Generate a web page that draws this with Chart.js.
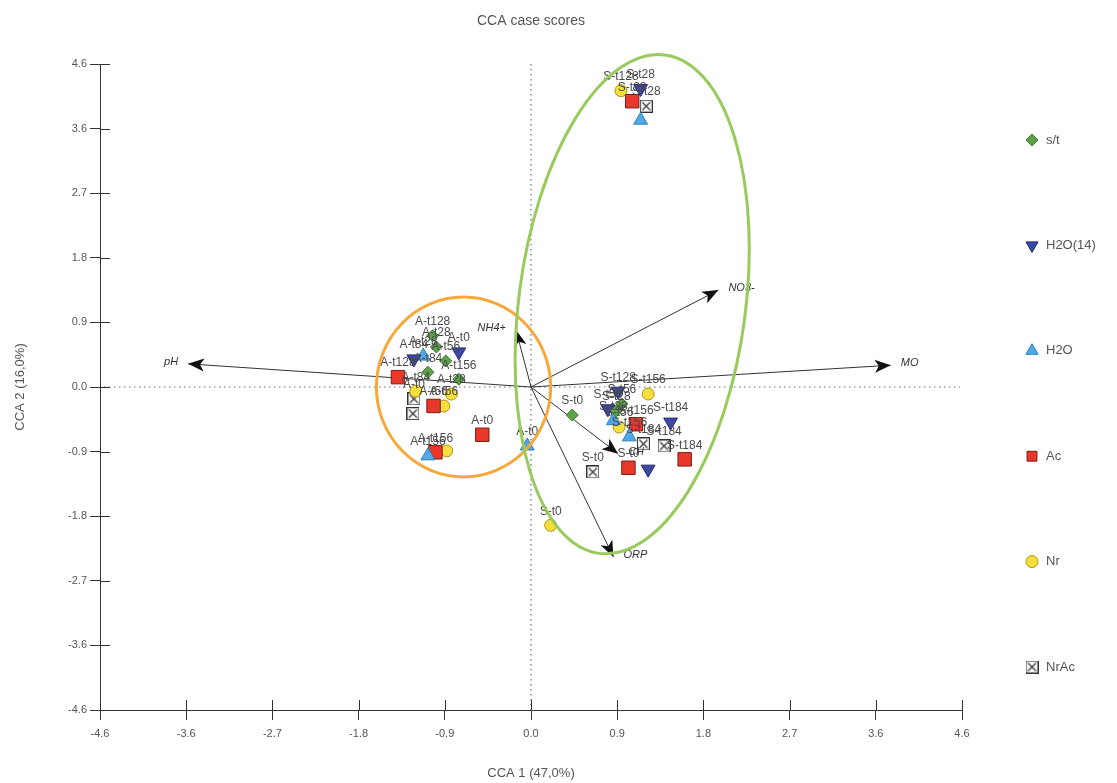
<!DOCTYPE html>
<html>
<head>
<meta charset="utf-8">
<title>CCA case scores</title>
<script src="https://cdn.jsdelivr.net/npm/chart.js@4/dist/chart.umd.min.js"></script>
<style>
    html, body { margin: 0; padding: 0; background: #fff; }
    #chart-cca { display: block; }
</style>
</head>
<body>
<canvas id="chart-cca" width="1117" height="783"></canvas>
<script>
"use strict";

// ======================================================================
// Data
//
const tickValues = [-4.6, -3.68, -2.76, -1.84, -0.92, 0, 0.92, 1.84, 2.76, 3.68, 4.6];
const tickLabels = ['-4.6', '-3.6', '-2.7', '-1.8', '-0.9', '0.0', '0.9', '1.8', '2.7', '3.6', '4.6'];

const seriesNames = ['s/t', 'H2O(14)', 'H2O', 'Ac', 'Nr', 'NrAc'];

const stX = [0.44, 0.91, 0.97, -1.05, -1.01, -1.10, -0.77, -0.91];
const stY = [-0.40, -0.34, -0.24, 0.73, 0.57, 0.21, 0.11, 0.37];
const stLabels = ['S-t0', 'S-t28', 'S-t56', 'A-t128', 'A-t28', 'A-t84', 'A-t156', 'A-t56'];

const h2o14X = [-0.77, -1.25, 0.93, 0.82, 1.49, 1.25, 1.17];
const h2o14Y = [0.50, 0.40, -0.06, -0.31, -0.50, -1.17, 4.25];
const h2o14Labels = ['A-t0', 'A-t84', 'S-t128', 'S-t56', 'S-t184', '', 'S-t28'];

const h2oX = [1.17, -1.10, -0.04, -1.15, 0.88, 1.05];
const h2oY = [3.80, -0.98, -0.84, 0.44, -0.48, -0.71];
const h2oLabels = ['', 'A-t156', 'A-t0', 'A-t28', 'S-t28', 'S-t156'];

const acX = [1.08, -1.42, -1.04, -1.02, -0.52, 1.12, 1.04, 1.64];
const acY = [4.07, 0.14, -0.27, -0.93, -0.68, -0.53, -1.15, -1.03];
const acLabels = ['S-t28', 'A-t128', 'A-t56', 'A-t156', 'A-t0', 'S-t156', 'S-t0', 'S-t184'];

const nrX = [0.96, -1.23, -0.85, -0.93, -0.90, 1.25, 0.94, 0.21];
const nrY = [4.22, -0.06, -0.10, -0.27, -0.91, -0.10, -0.57, -1.97];
const nrLabels = ['S-t128', 'A-t84', 'A-t28', 'A-t56', '', 'S-t156', 'S-t56', 'S-t0'];

const nracX = [1.23, -1.25, -1.26, 1.20, 1.42, 0.66];
const nracY = [4.00, -0.17, -0.38, -0.81, -0.84, -1.21];
const nracLabels = ['S-t28', 'A-t0', '', 'S-t184', 'S-t184', 'S-t0'];

// environmental vectors (biplot arrows)
const vectorNames = ['pH', 'MO', 'NO3-', 'NH4+', 'CH', 'ORP'];
const vectorX = [-3.66, 3.84, 2.00, -0.16, 0.93, 0.88];
const vectorY = [0.33, 0.31, 1.38, 0.81, -0.95, -2.42];

// group ellipses, in axis units (A soils, S soils)
const ellipseCX = [-0.72, 1.08];
const ellipseCY = [0.00, 1.18];
const ellipseRX = [0.93, 1.21];
const ellipseRY = [1.28, 3.58];
const ellipseTilt = [0, 7.5];

// ======================================================================
// Helpers
//
function toPoints(xs, ys) {
    return xs.map((x, i) => ({ x: x, y: ys[i] }));
}

function boxCross(size) {
    const c = document.createElement('canvas');
    c.width = size;
    c.height = size;
    const g = c.getContext('2d');
    g.fillStyle = '#fff';
    g.fillRect(0.5, 0.5, size - 1, size - 1);
    g.strokeStyle = '#333';
    g.lineWidth = 1.2;
    g.strokeRect(0.5, 0.5, size - 1, size - 1);
    g.beginPath();
    g.moveTo(2.5, 2.5); g.lineTo(size - 2.5, size - 2.5);
    g.moveTo(size - 2.5, 2.5); g.lineTo(2.5, size - 2.5);
    g.stroke();
    return c;
}

const FONT = "'Liberation Sans', Arial, sans-serif";

// ======================================================================
// Datasets
//
const seriesPoints = [
    toPoints(stX, stY), toPoints(h2o14X, h2o14Y), toPoints(h2oX, h2oY),
    toPoints(acX, acY), toPoints(nrX, nrY), toPoints(nracX, nracY)
];
const seriesLabels = [stLabels, h2o14Labels, h2oLabels, acLabels, nrLabels, nracLabels];
const seriesStyle = [
    { pointStyle: 'rectRot', radius: 6, rotation: 0, bg: '#5da24a', border: '#3c7a2e' },
    { pointStyle: 'triangle', radius: 8, rotation: 180, bg: '#3b48a6', border: '#232b6e' },
    { pointStyle: 'triangle', radius: 8, rotation: 0, bg: '#4fa9e6', border: '#2f7fb5' },
    { pointStyle: 'rect', radius: 9.5, rotation: 0, bg: '#e8382c', border: '#7a1d16' },
    { pointStyle: 'circle', radius: 6, rotation: 0, bg: '#f6de3c', border: '#b0940f' },
    { pointStyle: boxCross(13), radius: 7, rotation: 0, bg: '#fff', border: '#333' }
];

const datasets = [];

vectorNames.forEach((name, i) => {
    datasets.push({
        label: name,
        isVector: true,
        data: [{ x: 0, y: 0 }, { x: vectorX[i], y: vectorY[i] }],
        showLine: true,
        borderColor: '#333',
        borderWidth: 1,
        pointRadius: 0,
        order: 10
    });
});

seriesNames.forEach((name, i) => {
    const s = seriesStyle[i];
    datasets.push({
        label: name,
        pointLabels: seriesLabels[i],
        data: seriesPoints[i],
        showLine: false,
        pointStyle: s.pointStyle,
        pointRadius: s.radius,
        pointRotation: s.rotation,
        backgroundColor: s.bg,
        borderColor: s.border,
        borderWidth: 1,
        order: 1
    });
});

// ======================================================================
// Plugin: zero lines, inner ticks, ellipses, arrowheads, labels, legend
//
const ccaDecor = {
    id: 'ccaDecor',
    beforeDatasetsDraw(chart) {
        const { ctx, chartArea: a, scales: { x, y } } = chart;
        const x0 = x.getPixelForValue(0), y0 = y.getPixelForValue(0);

        ctx.save();
        ctx.strokeStyle = '#5f6f88';
        ctx.lineWidth = 1.2;
        ctx.setLineDash([1.5, 3.5]);
        ctx.beginPath();
        ctx.moveTo(a.left + 4, y0); ctx.lineTo(a.right - 2, y0);
        ctx.moveTo(x0, a.top); ctx.lineTo(x0, a.bottom);
        ctx.stroke();
        ctx.setLineDash([]);

        // inner halves of the crossing tick marks
        ctx.strokeStyle = '#333';
        ctx.lineWidth = 1;
        ctx.beginPath();
        tickValues.forEach(v => {
            const px = Math.round(x.getPixelForValue(v)) + 0.5;
            ctx.moveTo(px, a.bottom); ctx.lineTo(px, a.bottom - 10);
            const py = Math.round(y.getPixelForValue(v)) + 0.5;
            ctx.moveTo(a.left, py); ctx.lineTo(a.left + 10, py);
        });
        ctx.stroke();
        ctx.restore();
    },
    afterDatasetsDraw(chart) {
        const { ctx, chartArea: a, scales: { x, y } } = chart;

        ctx.save();

        // point labels
        ctx.font = '12px ' + FONT;
        ctx.fillStyle = '#4a4a4a';
        ctx.textAlign = 'center';
        ctx.textBaseline = 'middle';
        chart.data.datasets.forEach((ds, i) => {
            if (!ds.pointLabels) return;
            chart.getDatasetMeta(i).data.forEach((el, j) => {
                const t = ds.pointLabels[j];
                if (t) ctx.fillText(t, el.x, el.y - 14);
            });
        });

        // arrowheads and vector names
        ctx.font = 'italic 11px ' + FONT;
        chart.data.datasets.forEach((ds, i) => {
            if (!ds.isVector) return;
            const pts = chart.getDatasetMeta(i).data;
            const p0 = pts[0], p1 = pts[1];
            const ang = Math.atan2(p1.y - p0.y, p1.x - p0.x);
            const len = 16, half = 6.5;
            ctx.fillStyle = '#111';
            ctx.beginPath();
            ctx.moveTo(p1.x, p1.y);
            ctx.lineTo(p1.x - len * Math.cos(ang) + half * Math.sin(ang), p1.y - len * Math.sin(ang) - half * Math.cos(ang));
            ctx.lineTo(p1.x - 0.75 * len * Math.cos(ang), p1.y - 0.75 * len * Math.sin(ang));
            ctx.lineTo(p1.x - len * Math.cos(ang) - half * Math.sin(ang), p1.y - len * Math.sin(ang) + half * Math.cos(ang));
            ctx.closePath();
            ctx.fill();

            ctx.fillStyle = '#333';
            const right = p1.x >= p0.x;
            ctx.textAlign = right ? 'left' : 'right';
            ctx.fillText(ds.label, p1.x + (right ? 10 : -10), p1.y - 2);
        });

        // group ellipses
        const colors = ['#f6a83a', '#98ca5c'];
        ctx.lineWidth = 3;
        ellipseCX.forEach((cx, i) => {
            const px = x.getPixelForValue(cx), py = y.getPixelForValue(ellipseCY[i]);
            const rx = Math.abs(x.getPixelForValue(cx + ellipseRX[i]) - px);
            const ry = Math.abs(y.getPixelForValue(ellipseCY[i] + ellipseRY[i]) - py);
            ctx.strokeStyle = colors[i];
            ctx.beginPath();
            ctx.ellipse(px, py, rx, ry, ellipseTilt[i] * Math.PI / 180, 0, Math.PI * 2);
            ctx.stroke();
        });

        // title, centred over the plot area
        ctx.font = '14px ' + FONT;
        ctx.fillStyle = '#555';
        ctx.textAlign = 'center';
        ctx.fillText('CCA case scores', (a.left + a.right) / 2, 21);

        // legend
        const lx = 1032, ly = 140, step = 105.4;
        ctx.font = '13px ' + FONT;
        ctx.textAlign = 'left';
        ctx.lineWidth = 1;
        seriesNames.forEach((name, i) => {
            const s = seriesStyle[i];
            const yy = ly + i * step;
            ctx.fillStyle = s.bg;
            ctx.strokeStyle = s.border;
            Chart.helpers.drawPoint(ctx, {
                pointStyle: s.pointStyle,
                radius: typeof s.pointStyle === 'string' ? Math.min(s.radius, 7) : 6,
                rotation: s.rotation,
                borderWidth: 1
            }, lx, yy);
            ctx.fillStyle = '#555';
            ctx.fillText(name, lx + 14, yy);
        });

        ctx.restore();
    }
};

// ======================================================================
// Chart
//
const axisCommon = {
    type: 'linear',
    min: -4.6,
    max: 4.6,
    afterBuildTicks: scale => { scale.ticks = tickValues.map(v => ({ value: v })); },
    ticks: {
        autoSkip: false,
        maxRotation: 0,
        color: '#555',
        font: { family: FONT, size: 11 },
        callback: (v, i) => tickLabels[i]
    },
    grid: {
        drawOnChartArea: false,
        drawTicks: true,
        tickLength: 10,
        color: '#333',
        lineWidth: 1
    },
    border: { display: true, color: '#333', width: 1 }
};

new Chart(document.getElementById('chart-cca'), {
    type: 'scatter',
    data: { datasets: datasets },
    options: {
        responsive: false,
        animation: false,
        devicePixelRatio: 1,
        layout: { padding: { top: 64, right: 155, bottom: 0, left: 0 } },
        plugins: {
            legend: { display: false },
            tooltip: { enabled: false },
            title: { display: false }
        },
        scales: {
            x: Object.assign({}, axisCommon, {
                position: 'bottom',
                ticks: Object.assign({}, axisCommon.ticks, { padding: 7 }),
                title: {
                    display: true,
                    text: 'CCA 1 (47,0%)',
                    color: '#555',
                    font: { family: FONT, size: 13 },
                    padding: { top: 0, bottom: 2 }
                },
                afterFit: scale => { scale.height = 73; }
            }),
            y: Object.assign({}, axisCommon, {
                position: 'left',
                ticks: Object.assign({}, axisCommon.ticks, { padding: 3 }),
                title: {
                    display: true,
                    text: 'CCA 2 (16,0%)',
                    color: '#555',
                    font: { family: FONT, size: 13 },
                    padding: { top: 13, bottom: 0 }
                },
                afterFit: scale => { scale.width = 100; }
            })
        }
    },
    plugins: [ccaDecor]
});
</script>
</body>
</html>
